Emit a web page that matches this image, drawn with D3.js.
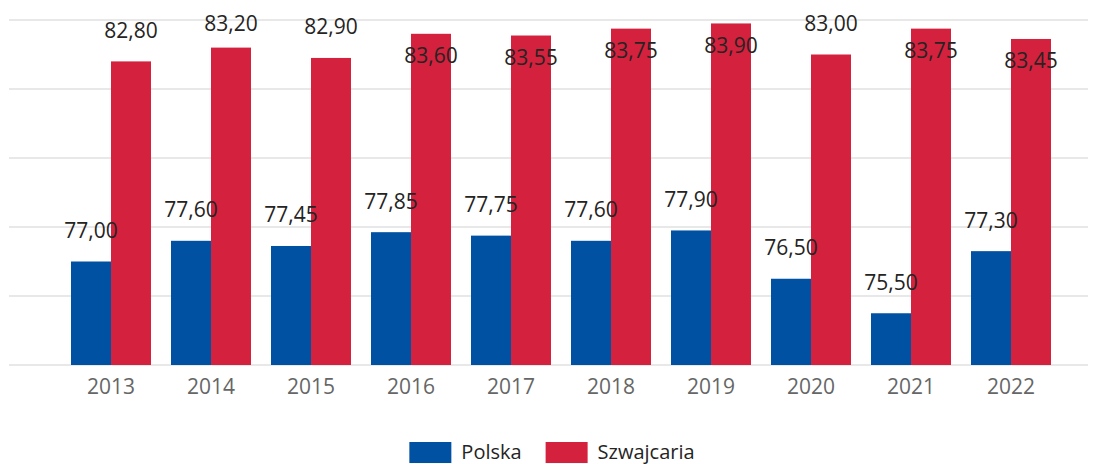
<!DOCTYPE html>
<html>
<head>
<meta charset="utf-8">
<script src="https://cdn.jsdelivr.net/npm/d3@7"></script>
<style>
  body { margin: 0; background: #fff; }
  text { font-family: "Open Sans", "Noto Sans", sans-serif; }
</style>
</head>
<body>
<div id="chart"></div>
<script>
(function () {

  /***** Data *****/
  var years = ["2013", "2014", "2015", "2016", "2017", "2018", "2019", "2020", "2021", "2022"]
  var polska = [77.00, 77.60, 77.45, 77.85, 77.75, 77.60, 77.90, 76.50, 75.50, 77.30]
  var szwajcaria = [82.80, 83.20, 82.90, 83.60, 83.55, 83.75, 83.90, 83.00, 83.75, 83.45]
  var seriesNames = ["Polska", "Szwajcaria"]
  var colors = ["#0051a2", "#d4213d"]
  var yTicks = [74, 76, 78, 80, 82, 84]

  /***** Configuration *****/
  var width = 1096
  var height = 464

  var svg = d3.select("#chart")
    .append("svg")
    .attr("width", width)
    .attr("height", height)

  // 100px per year, bars fill 80% of it
  var x0 = d3.scaleBand()
    .domain(years)
    .range([71, 1051])
    .paddingInner(0.2)
    .paddingOuter(0)

  var xs = d3.scaleBand()
    .domain(seriesNames)
    .range([0, x0.bandwidth()])

  var y = d3.scaleLinear()
    .domain([74, 84])
    .range([365, 20])

  // grid
  svg.append("g")
    .selectAll("line")
    .data(yTicks)
    .join("line")
    .attr("x1", 9)
    .attr("x2", 1088)
    .attr("y1", d => y(d))
    .attr("y2", d => y(d))
    .attr("stroke", "#e1e1e1")
    .attr("stroke-width", 1.5)

  var rows = years.map((yr, i) => ({ year: yr, values: [polska[i], szwajcaria[i]] }))

  var groups = svg.append("g")
    .selectAll("g")
    .data(rows)
    .join("g")
    .attr("transform", d => "translate(" + x0(d.year) + ",0)")

  groups.selectAll("rect")
    .data(d => d.values.map((v, k) => ({ name: seriesNames[k], v: v, k: k })))
    .join("rect")
    .attr("x", d => xs(d.name))
    .attr("y", d => y(d.v))
    .attr("width", xs.bandwidth())
    .attr("height", d => y(74) - y(d.v))
    .attr("fill", d => colors[d.k])

  var fmt = v => v.toFixed(2).replace(".", ",")

  // labels above the bar, pushed inside when there is no room at the top
  function labelY(v) {
    var top = y(v)
    var pos = top - 31
    if (pos < 10) return top + 22
    return Math.max(pos, 24)
  }

  groups.selectAll("text.lbl")
    .data(d => d.values.map((v, k) => ({ name: seriesNames[k], v: v, k: k })))
    .join("text")
    .attr("class", "lbl")
    .attr("x", d => xs(d.name) + xs.bandwidth() / 2)
    .attr("y", d => labelY(d.v))
    .attr("dy", "0.35em")
    .attr("text-anchor", "middle")
    .attr("font-size", 21)
    .attr("fill", "#252423")
    .text(d => fmt(d.v))

  // x axis
  var xAxis = svg.append("g")
    .attr("transform", "translate(0,365)")
    .call(d3.axisBottom(x0).tickSize(0).tickPadding(14))
  xAxis.select(".domain").remove()
  xAxis.selectAll("text")
    .attr("font-size", 21)
    .attr("fill", "#666")
    .style("font-family", "'Open Sans', sans-serif")

  // legend
  var legend = svg.append("g")
  var items = legend.selectAll("g")
    .data(seriesNames)
    .join("g")
  items.append("rect")
    .attr("width", 42)
    .attr("height", 21)
    .attr("y", -10)
    .attr("fill", (d, i) => colors[i])
  items.append("text")
    .attr("x", 52)
    .attr("dy", "0.35em")
    .attr("font-size", 20)
    .attr("fill", "#252423")
    .text(d => d)

  var xPos = 0
  items.each(function () {
    var w = this.getBBox().width
    d3.select(this).attr("transform", "translate(" + xPos + ",0)")
    xPos += w + 24
  })
  var total = xPos - 24
  legend.attr("transform", "translate(" + (552 - total / 2) + ",452)")

})()
</script>
</body>
</html>
